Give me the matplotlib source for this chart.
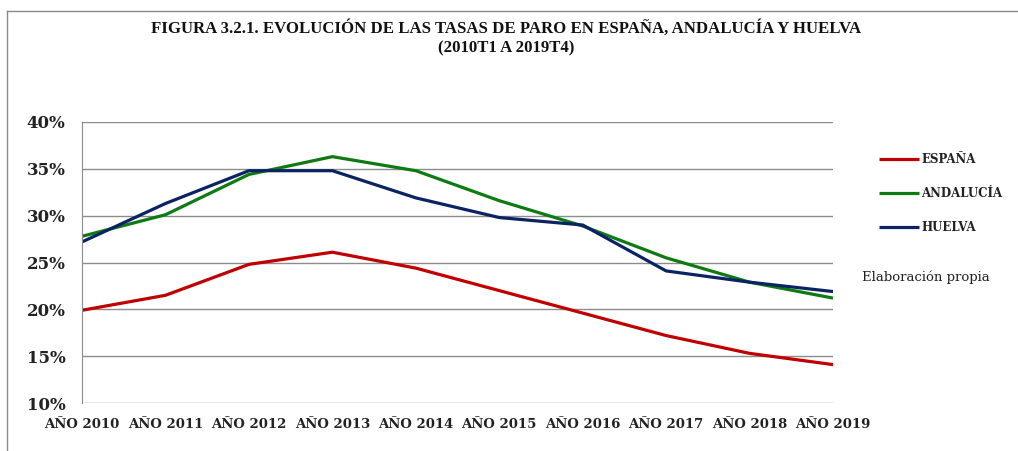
import matplotlib
matplotlib.use('Agg')
import matplotlib.pyplot as plt
import matplotlib.ticker as mticker
from matplotlib.lines import Line2D

# ── datos (tasas de paro, %) ──────────────────
years = ['AÑO 2010', 'AÑO 2011', 'AÑO 2012', 'AÑO 2013', 'AÑO 2014',
         'AÑO 2015', 'AÑO 2016', 'AÑO 2017', 'AÑO 2018', 'AÑO 2019']
espana    = [19.9, 21.5, 24.8, 26.1, 24.4, 22.0, 19.6, 17.2, 15.3, 14.1]
andalucia = [27.8, 30.1, 34.4, 36.3, 34.8, 31.6, 28.9, 25.5, 22.9, 21.2]
huelva    = [27.2, 31.3, 34.8, 34.8, 31.9, 29.8, 29.0, 24.1, 22.9, 21.9]

series = [('ESPAÑA', espana, '#C00000'),
          ('ANDALUCÍA', andalucia, '#0E7A12'),
          ('HUELVA', huelva, '#0B2363')]

SERIF = ['DejaVu Serif']

fig = plt.figure(figsize=(10.18, 4.51), dpi=100)
ax = fig.add_axes([0.0806, 0.1064, 0.7377, 0.6231])

# marco de la figura (solo izquierda y arriba visibles)
fig.add_artist(Line2D([0.007, 0.007], [0, 0.975], transform=fig.transFigure,
                      color='#8a8a8a', lw=1))
fig.add_artist(Line2D([0.007, 1.0], [0.975, 0.975], transform=fig.transFigure,
                      color='#8a8a8a', lw=1))

x = list(range(len(years)))
for name, vals, col in series:
    ax.plot(x, vals, color=col, lw=2.3, label=name, solid_capstyle='butt')

ax.set_xlim(0, len(years) - 1)
ax.set_ylim(10, 40)
ax.yaxis.set_major_locator(mticker.MultipleLocator(5))
ax.yaxis.set_major_formatter(mticker.FuncFormatter(lambda v, p: f'{v:.0f}%'))
ax.set_xticks(x)
ax.set_xticklabels(years)
ax.grid(True, axis='y', color='#8c8c8c', lw=1)
ax.set_axisbelow(True)
for s in ['top', 'right', 'bottom']:
    ax.spines[s].set_visible(False)
ax.spines['left'].set_color('#8c8c8c')
ax.tick_params(length=0)
ax.tick_params(axis='y', pad=12)
ax.tick_params(axis='x', pad=11)
for lab in ax.get_yticklabels():
    lab.set_fontfamily(SERIF); lab.set_fontweight('bold'); lab.set_fontsize(12)
    lab.set_color('#222222')
for lab in ax.get_xticklabels():
    lab.set_fontfamily(SERIF); lab.set_fontweight('bold'); lab.set_fontsize(9.5)
    lab.set_color('#222222')

fig.text(0.497, 0.915, 'FIGURA 3.2.1. EVOLUCIÓN DE LAS TASAS DE PARO EN ESPAÑA, ANDALUCÍA Y HUELVA\n(2010T1 A 2019T4)',
         ha='center', va='center', fontsize=12.1, fontweight='bold',
         family=['Liberation Serif'], linespacing=1.27, color='#111111')

leg = fig.legend(loc='upper left', bbox_to_anchor=(0.853, 0.685), frameon=False,
                 handlelength=3.4, handletextpad=0.2, labelspacing=1.8,
                 prop={'family': SERIF, 'weight': 'bold', 'size': 8.5})
for t in leg.get_texts():
    t.set_color('#222222')

fig.text(0.847, 0.385, 'Elaboración propia', ha='left', va='center',
         fontsize=9.5, family=SERIF, color='#222222')

fig.savefig('out.png', dpi=100)
